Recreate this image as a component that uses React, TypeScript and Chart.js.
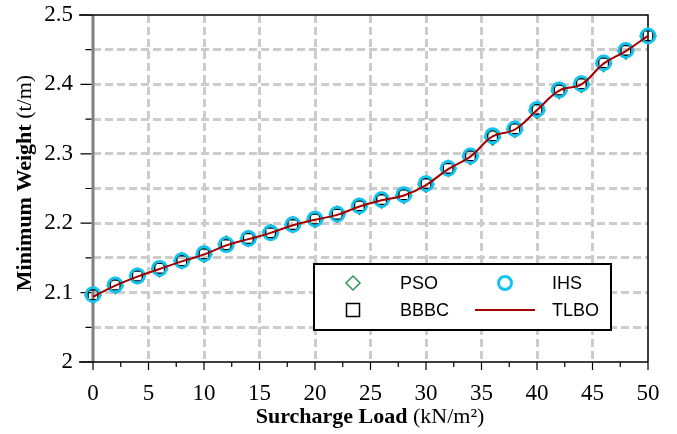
import React, { useEffect, useRef } from "react";
import { Chart, registerables } from "chart.js";

Chart.register(...registerables);

const loads = [0, 2, 4, 6, 8, 10, 12, 14, 16, 18, 20, 22, 24, 26, 28, 30, 32, 34, 36, 38, 40, 42, 44, 46, 48, 50];
const psoWeights = [2.096, 2.110, 2.124, 2.134, 2.146, 2.155, 2.170, 2.178, 2.187, 2.198, 2.205, 2.213, 2.224, 2.233, 2.240, 2.256, 2.279, 2.296, 2.324, 2.335, 2.362, 2.391, 2.400, 2.430, 2.448, 2.470];
const bbbcWeights = [2.097, 2.111, 2.124, 2.135, 2.146, 2.156, 2.169, 2.178, 2.186, 2.198, 2.206, 2.213, 2.225, 2.234, 2.241, 2.257, 2.279, 2.297, 2.326, 2.336, 2.364, 2.392, 2.401, 2.431, 2.449, 2.470];
const ihsWeights = [2.097, 2.111, 2.124, 2.135, 2.146, 2.156, 2.169, 2.178, 2.186, 2.198, 2.206, 2.213, 2.225, 2.234, 2.241, 2.257, 2.279, 2.297, 2.326, 2.336, 2.364, 2.392, 2.401, 2.431, 2.449, 2.470];
const tlboWeights = [2.094, 2.110, 2.123, 2.134, 2.145, 2.155, 2.168, 2.177, 2.186, 2.197, 2.205, 2.212, 2.224, 2.233, 2.240, 2.255, 2.278, 2.296, 2.325, 2.335, 2.363, 2.391, 2.400, 2.430, 2.448, 2.470];

const xMajorTicks = [0, 5, 10, 15, 20, 25, 30, 35, 40, 45, 50];
const xMinorTicks = [2.5, 7.5, 12.5, 17.5, 22.5, 27.5, 32.5, 37.5, 42.5, 47.5];
const yMajorTicks = [2, 2.1, 2.2, 2.3, 2.4, 2.5];
const yMinorTicks = [2.05, 2.15, 2.25, 2.35, 2.45];

const xTitleBold = "Surcharge Load";
const xTitleUnit = " (kN/m²)";
const yTitleBold = "Minimum Weight";
const yTitleUnit = " (t/m)";

const SERIF = "'Liberation Serif', 'Times New Roman', serif";
const SANS = "'Liberation Sans', Arial, sans-serif";

const isIn = (arr: number[], v: number) => arr.some((a) => Math.abs(a - v) < 1e-6);

const framePlugin = {
  id: "frame",
  beforeDatasetsDraw(chart: any) {
    const { ctx, chartArea } = chart;
    const xs = chart.scales.x;
    const ys = chart.scales.y;
    const left = chartArea.left;
    const extLeft = left - 14;
    ctx.save();
    ctx.strokeStyle = "#808080";
    ctx.lineWidth = 3;
    ctx.beginPath();
    ctx.moveTo(xs.getPixelForValue(0), chartArea.top);
    ctx.lineTo(xs.getPixelForValue(0), chartArea.bottom);
    ctx.stroke();
    ctx.strokeStyle = "#000";
    ctx.lineWidth = 1.5;
    ctx.beginPath();
    ctx.moveTo(extLeft, chartArea.top);
    ctx.lineTo(chartArea.right, chartArea.top);
    ctx.lineTo(chartArea.right, chartArea.bottom);
    ctx.moveTo(extLeft, chartArea.bottom);
    ctx.lineTo(chartArea.right, chartArea.bottom);
    ctx.stroke();
    ctx.lineWidth = 1.2;
    ctx.beginPath();
    xs.ticks.forEach((t: any) => {
      const px = xs.getPixelForValue(t.value);
      const len = isIn(xMajorTicks, t.value) ? 8 : 5;
      ctx.moveTo(px, chartArea.bottom);
      ctx.lineTo(px, chartArea.bottom + len);
    });
    ys.ticks.forEach((t: any) => {
      const py = ys.getPixelForValue(t.value);
      const len = isIn(yMajorTicks, t.value) ? 11 : 6;
      ctx.moveTo(left - 1.5, py);
      ctx.lineTo(left - 1.5 - len, py);
    });
    ctx.stroke();
    ctx.restore();
  },
  afterDraw(chart: any) {
    const { ctx } = chart;
    ctx.save();
    ctx.fillStyle = "#000";
    ctx.textBaseline = "alphabetic";
    const boldFont = `bold 22px ${SERIF}`;
    const normFont = `22px ${SERIF}`;
    ctx.font = boldFont;
    const wb = ctx.measureText(xTitleBold).width;
    ctx.font = normFont;
    const wn = ctx.measureText(xTitleUnit).width;
    const cx = 370;
    const sx = cx - (wb + wn) / 2;
    ctx.textAlign = "left";
    ctx.font = boldFont;
    ctx.fillText(xTitleBold, sx, 423);
    ctx.font = normFont;
    ctx.fillText(xTitleUnit, sx + wb, 423);
    ctx.font = boldFont;
    const yb = ctx.measureText(yTitleBold).width;
    ctx.font = normFont;
    const yn = ctx.measureText(yTitleUnit).width;
    ctx.translate(31, 183);
    ctx.rotate(-Math.PI / 2);
    const sy = -(yb + yn) / 2;
    ctx.font = boldFont;
    ctx.fillText(yTitleBold, sy, 0);
    ctx.font = normFont;
    ctx.fillText(yTitleUnit, sy + yb, 0);
    ctx.restore();

    ctx.save();
    const bx = 314, by = 264, bw = 297, bh = 66;
    ctx.fillStyle = "#fff";
    ctx.fillRect(bx, by, bw, bh);
    ctx.strokeStyle = "#000";
    ctx.lineWidth = 2;
    ctx.strokeRect(bx, by, bw, bh);
    const ds = chart.data.datasets;
    const items = [
      { d: ds.find((d: any) => d.label === "PSO"), mx: 353, tx: 400, y: 283 },
      { d: ds.find((d: any) => d.label === "IHS"), mx: 505, tx: 552, y: 283 },
      { d: ds.find((d: any) => d.label === "BBBC"), mx: 353, tx: 400, y: 310 },
      { d: ds.find((d: any) => d.label === "TLBO"), mx: 505, tx: 552, y: 310 },
    ];
    ctx.font = `18px ${SANS}`;
    ctx.textBaseline = "middle";
    ctx.textAlign = "left";
    items.forEach((it) => {
      const d = it.d;
      if (d.showLine === false) {
        ctx.strokeStyle = d.borderColor;
        ctx.lineWidth = d.pointStyle === "circle" ? 3 : d.borderWidth;
        ctx.beginPath();
        const r = 7;
        if (d.pointStyle === "rectRot") {
          ctx.moveTo(it.mx, it.y - r);
          ctx.lineTo(it.mx + r, it.y);
          ctx.lineTo(it.mx, it.y + r);
          ctx.lineTo(it.mx - r, it.y);
          ctx.closePath();
        } else if (d.pointStyle === "rect") {
          ctx.rect(it.mx - 6.5, it.y - 6.5, 13, 13);
        } else {
          ctx.arc(it.mx, it.y, 6.5, 0, Math.PI * 2);
        }
        ctx.stroke();
      } else {
        ctx.strokeStyle = d.borderColor;
        ctx.lineWidth = 2;
        ctx.beginPath();
        ctx.moveTo(it.mx - 30, it.y);
        ctx.lineTo(it.mx + 30, it.y);
        ctx.stroke();
      }
      ctx.fillStyle = "#000";
      ctx.fillText(d.label, it.tx, it.y + 1);
    });
    ctx.restore();
  },
};

function App() {
  const ref = useRef<HTMLCanvasElement | null>(null);
  useEffect(() => {
    document.body.style.margin = "0";
    const toPts = (ys: number[]) => loads.map((x, i) => ({ x, y: ys[i] }));
    const chart = new Chart(ref.current as HTMLCanvasElement, {
      type: "scatter",
      data: {
        datasets: [
          {
            label: "TLBO",
            data: toPts(tlboWeights),
            showLine: true,
            borderColor: "#a50000",
            backgroundColor: "#a50000",
            borderWidth: 2,
            pointRadius: 0,
            tension: 0.4,
            clip: false as any,
            order: 0,
          },
          {
            label: "IHS",
            data: toPts(ihsWeights),
            showLine: false,
            pointStyle: "circle",
            pointRadius: 7,
            borderColor: "#12c3f2",
            backgroundColor: "rgba(0,0,0,0)",
            pointBorderWidth: 2.8,
            borderWidth: 2.8,
            clip: false as any,
            order: 1,
          },
          {
            label: "BBBC",
            data: toPts(bbbcWeights),
            showLine: false,
            pointStyle: "rect",
            pointRadius: 7,
            borderColor: "#000",
            backgroundColor: "rgba(0,0,0,0)",
            pointBorderWidth: 1.5,
            borderWidth: 1.5,
            clip: false as any,
            order: 2,
          },
          {
            label: "PSO",
            data: toPts(psoWeights),
            showLine: false,
            pointStyle: "rectRot",
            pointRadius: 8,
            borderColor: "#2e9a58",
            backgroundColor: "rgba(0,0,0,0)",
            pointBorderWidth: 1.5,
            borderWidth: 1.5,
            clip: false as any,
            order: 3,
          },
        ],
      },
      plugins: [framePlugin],
      options: {
        responsive: false,
        animation: false,
        events: [],
        layout: { padding: { top: 15, right: 29, left: 0, bottom: 0 } },
        plugins: { legend: { display: false }, tooltip: { enabled: false } },
        scales: {
          x: {
            type: "linear",
            min: 0,
            max: 50,
            afterBuildTicks: (s: any) => {
              s.ticks = [...xMajorTicks, ...xMinorTicks].sort((a, b) => a - b).map((v) => ({ value: v }));
            },
            afterFit: (s: any) => {
              s.height = 72;
              s.paddingLeft = 0;
              s.paddingRight = 0;
            },
            ticks: {
              autoSkip: false,
              maxRotation: 0,
              padding: 18,
              color: "#000",
              font: { family: SERIF, size: 23 },
              callback: (v: any) => (isIn(xMajorTicks, Number(v)) ? String(v) : ""),
            },
            grid: {
              drawTicks: false,
              lineWidth: 3,
              color: (c: any) =>
                c.tick && isIn(xMajorTicks, c.tick.value) && c.tick.value !== 0 && c.tick.value !== 50
                  ? "#cccccc"
                  : "rgba(0,0,0,0)",
            },
            border: { display: false, dash: [8, 4] },
          },
          y: {
            type: "linear",
            min: 2,
            max: 2.5,
            afterBuildTicks: (s: any) => {
              s.ticks = [...yMajorTicks, ...yMinorTicks].sort((a, b) => a - b).map((v) => ({ value: v }));
            },
            afterFit: (s: any) => {
              s.width = 93;
              s.paddingTop = 0;
              s.paddingBottom = 0;
            },
            ticks: {
              autoSkip: false,
              padding: 20,
              color: "#000",
              font: { family: SERIF, size: 23 },
              callback: (v: any) => (isIn(yMajorTicks, Number(v)) ? String(Number(v)) : ""),
            },
            grid: {
              drawTicks: false,
              lineWidth: 3,
              color: (c: any) =>
                c.tick && c.tick.value > 2.001 && c.tick.value < 2.499 ? "#cccccc" : "rgba(0,0,0,0)",
            },
            border: { display: false, dash: [8, 4] },
          },
        },
      } as any,
    });
    return () => chart.destroy();
  }, []);
  return <canvas ref={ref} width={677} height={434} style={{ display: "block" }} />;
}

export default App;
